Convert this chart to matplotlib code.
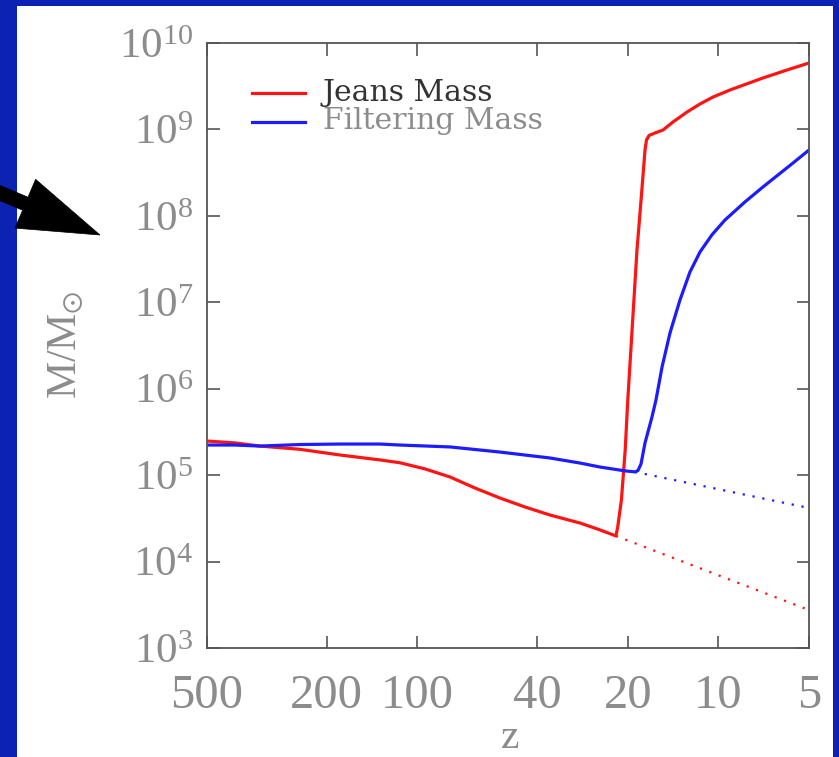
import matplotlib
matplotlib.use("Agg")
import matplotlib.pyplot as plt
from matplotlib.patches import Rectangle, Polygon
from matplotlib.ticker import FixedLocator, FixedFormatter, NullLocator

# ---------------- data ----------------
jeans_z = [500, 403.5, 333.4, 245.5, 180.7, 133.1, 114.2, 94.3, 77.9, 64.4, 53.2,
           43.9, 36.3, 28.8, 24.7, 21.9, 21.6, 21.0, 20.4, 20.0, 18.64, 18.07,
           17.53, 17.33, 17.0, 16.24, 15.28, 14.15, 12.71, 11.51, 10.42, 9.15,
           7.11, 5.78, 5]
jeans_m = [2.48e5, 2.36e5, 2.17e5, 1.99e5, 1.71e5, 1.50e5, 1.39e5, 1.18e5, 9.52e4,
           7.10e4, 5.44e4, 4.28e4, 3.46e4, 2.79e4, 2.32e4, 1.98e4, 2.51e4, 5.15e4,
           1.95e5, 7.40e5, 4.03e7, 1.52e8, 5.78e8, 7.55e8, 8.51e8, 9.10e8, 9.84e8,
           1.22e9, 1.59e9, 1.97e9, 2.37e9, 2.86e9, 3.94e9, 5.00e9, 5.87e9]

filt_z = [500, 403.5, 333.4, 245.5, 180.7, 133.1, 114.2, 77.9, 53.2, 36.3, 28.8,
          24.7, 20.4, 18.93, 18.5, 18.07, 17.53, 16.62, 16.12, 15.39, 14.48, 13.42,
          12.43, 11.51, 10.50, 9.51, 8.16, 7.11, 5.65, 5]
filt_m = [2.23e5, 2.23e5, 2.17e5, 2.26e5, 2.29e5, 2.29e5, 2.23e5, 2.12e5, 1.85e5,
          1.58e5, 1.38e5, 1.24e5, 1.12e5, 1.09e5, 1.13e5, 1.35e5, 2.36e5, 4.71e5,
          7.40e5, 1.78e6, 4.42e6, 1.06e7, 2.24e7, 3.82e7, 6.05e7, 8.95e7, 1.45e8,
          2.16e8, 4.09e8, 5.78e8]

jeans_dot_z = [21.9, 5]
jeans_dot_m = [1.98e4, 2.75e3]
filt_dot_z = [18.93, 5]
filt_dot_m = [1.09e5, 4.17e4]

xticks = [500, 200, 100, 40, 20, 10, 5]
xtick_labels = ["500", "200", "100", "40", "20", "10", "5"]
yticks = [1e3, 1e4, 1e5, 1e6, 1e7, 1e8, 1e9, 1e10]
ytick_labels = [r"$\mathregular{10^{3}}$", r"$\mathregular{10^{4}}$",
                r"$\mathregular{10^{5}}$", r"$\mathregular{10^{6}}$",
                r"$\mathregular{10^{7}}$", r"$\mathregular{10^{8}}$",
                r"$\mathregular{10^{9}}$", r"$\mathregular{10^{10}}$"]
legend_labels = ["Jeans Mass", "Filtering Mass"]

# ---------------- style ----------------
plt.rcParams["font.family"] = ["Liberation Serif", "DejaVu Serif"]
plt.rcParams["mathtext.fontset"] = "custom"
plt.rcParams["mathtext.rm"] = "Liberation Serif"
plt.rcParams["mathtext.it"] = "Liberation Serif:italic"
plt.rcParams["mathtext.fallback"] = "cm"

W, H = 839, 757
BLUE = "#0b22b2"
RED = "#ff1414"
LBLUE = "#1c1cff"
GRAY = "#8c8c8c"
SPINE = "#555555"

fig = plt.figure(figsize=(W / 100, H / 100), dpi=100)
fig.patch.set_facecolor(BLUE)
fig.add_artist(Rectangle((17 / W, 0), (833 - 17) / W, 1 - 6 / H,
                         transform=fig.transFigure, facecolor="white",
                         edgecolor="none", zorder=0))

ax = fig.add_axes([207 / W, 1 - 648 / H, (809 - 207) / W, (648 - 43) / H])
ax.set_facecolor("white")
ax.set_xscale("log")
ax.set_yscale("log")
ax.set_xlim(500, 5)
ax.set_ylim(1e3, 1e10)

ax.plot(jeans_z, jeans_m, color=RED, lw=2.3, solid_joinstyle="round")
ax.plot(filt_z, filt_m, color=LBLUE, lw=2.3, solid_joinstyle="round")
ax.plot(jeans_dot_z, jeans_dot_m, color=RED, lw=1.6, linestyle=(0, (1, 3.5)))
ax.plot(filt_dot_z, filt_dot_m, color=LBLUE, lw=1.6, linestyle=(0, (1, 3.5)))

ax.xaxis.set_major_locator(FixedLocator(xticks))
ax.xaxis.set_major_formatter(FixedFormatter(xtick_labels))
ax.xaxis.set_minor_locator(NullLocator())
ax.yaxis.set_major_locator(FixedLocator(yticks))
ax.yaxis.set_major_formatter(FixedFormatter(ytick_labels))
ax.yaxis.set_minor_locator(NullLocator())

ax.tick_params(axis="both", which="major", direction="in", length=9, width=1.2,
               color=SPINE, top=True, right=True, labelcolor=GRAY)
ax.tick_params(axis="x", labelsize=35, pad=19)
ax.tick_params(axis="y", labelsize=31, pad=10)
for s in ax.spines.values():
    s.set_color(SPINE)
    s.set_linewidth(1.3)

ax.set_ylabel(r"$\mathregular{M/M_{\odot}}$", fontsize=30, color=GRAY)
ax.yaxis.set_label_coords((86 - 207) / 602, (648 - 345) / 605)
ax.set_xlabel("z", fontsize=30, color=GRAY)
ax.xaxis.set_label_coords((510 - 207) / 602, (648 - 719) / 605)

# legend (manual)
for lab, col, yl, yt, tc in [(legend_labels[0], RED, 93, 101, "#333333"),
                              (legend_labels[1], LBLUE, 122, 129, GRAY)]:
    ax.plot([(252 - 207) / 602, (305 - 207) / 602],
            [(648 - yl) / 605, (648 - yl) / 605],
            transform=ax.transAxes, color=col, lw=2.3)
    ax.text((323 - 207) / 602, (648 - yt) / 605, lab, transform=ax.transAxes,
            fontsize=21.5, color=tc, family=["DejaVu Serif"], va="baseline", ha="left")

# black arrow (decoration)
arrow_px = [(-32.7, 186.9), (-27.3, 174.0), (28.0, 197.2), (35.6, 179.3),
            (100.0, 235.0), (15.0, 228.1), (22.6, 210.2)]
fig.add_artist(Polygon([(x / W, 1 - y / H) for x, y in arrow_px], closed=True,
                       transform=fig.transFigure, facecolor="black",
                       edgecolor="black", lw=0.5, zorder=5, clip_on=False))

fig.savefig("out.png", dpi=100, facecolor=fig.get_facecolor())
